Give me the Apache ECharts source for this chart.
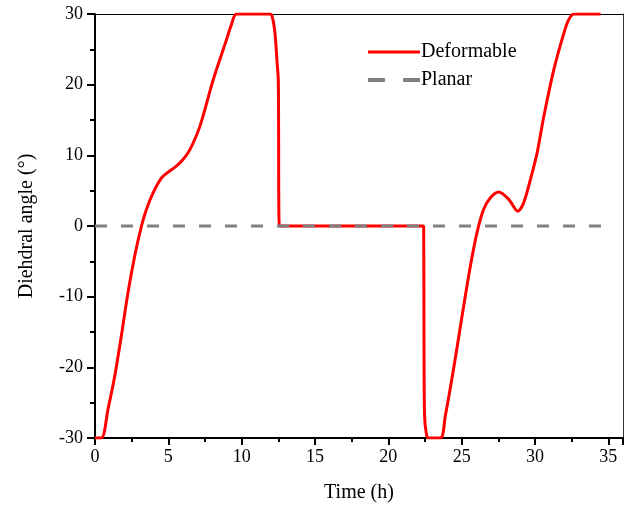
<!DOCTYPE html>
<html>
<head>
<meta charset="utf-8">
<script src="https://cdn.jsdelivr.net/npm/echarts@6/dist/echarts.min.js"></script>
<style>html,body{margin:0;padding:0;background:#fff}#c{width:633px;height:508px}</style>
</head>
<body>
<div id="c"></div>
<script>
var deformableT = [0,0.44,0.89,1.35,1.80,2.25,2.71,3.17,3.51,3.96,4.53,4.88,5.56,6.0,6.47,7.15,8.06,8.97,9.3,9.66,11.93,12.1,12.27,12.42,12.5,12.57,22.41,22.43,22.47,22.6,22.75,23.55,23.89,24.45,25.03,25.6,26.05,26.5,26.96,27.53,28.21,28.83,29.23,29.69,30.15,30.6,31.28,31.97,32.3,32.65,34.47];
var deformableY = [-30,-30,-25.9,-21.2,-15.5,-9.4,-4.2,0,2.36,4.7,6.8,7.45,8.5,9.4,10.8,14.1,20.7,26.4,28.5,30,30,29.5,27.3,23,20.5,0,0,-15,-26.8,-29.5,-30,-30,-26.8,-20.2,-12.7,-5.6,-0.9,2.36,4.0,4.8,3.77,2.1,3.3,6.6,10.4,15.5,22.1,27.3,29.2,30,30];
var planarT = [0,35];
var planarY = [0,0];
var xTicks = [0,5,10,15,20,25,30,35];
var yTicks = [-30,-20,-10,0,10,20,30];

function pairs(a,b){return a.map(function(v,i){return [v,b[i]];});}
var font = 'Liberation Serif';
var chart = echarts.init(document.getElementById('c'));
chart.setOption({
  animation:false,
  backgroundColor:'#fff',
  grid:{left:95,right:10,top:14,bottom:69},
  legend:{
    left:363, top:37, orient:'vertical', itemWidth:52, itemHeight:14, itemGap:8,
    textStyle:{fontFamily:font,fontSize:20,color:'#000',padding:[0,0,0,-4]},
    data:[{name:'Deformable',icon:'path://M0,0L52,0L52,3L0,3Z'},{name:'Planar',icon:'path://M0,0L13,0L13,3L0,3ZM27,0L40,0L40,3L27,3Z'}]
  },
  xAxis:[{
    type:'value', min:0, max:36, interval:5,
    name:'Time (h)', nameLocation:'middle', nameGap:45,
    nameTextStyle:{fontFamily:font,fontSize:20,color:'#000'},
    axisLine:{show:true,onZero:false,lineStyle:{color:'#000',width:2}},
    axisTick:{show:true,inside:false,length:7,lineStyle:{color:'#000',width:2}},
    minorTick:{show:true,splitNumber:2,length:4,lineStyle:{color:'#000',width:2}},
    axisLabel:{fontFamily:font,fontSize:18,color:'#000',margin:10,
      formatter:function(v){return xTicks.indexOf(v)>=0?String(v):'';}},
    splitLine:{show:false}
  },{
    type:'value', position:'top', min:0, max:36,
    axisLine:{show:true,onZero:false,lineStyle:{color:'#000',width:1}},
    axisTick:{show:false},axisLabel:{show:false},splitLine:{show:false}
  }],
  yAxis:[{
    type:'value', min:-30, max:30, interval:10,
    name:'Diehdral angle (°)', nameLocation:'middle', nameGap:58, nameRotate:90,
    nameTextStyle:{fontFamily:font,fontSize:20,color:'#000'},
    axisLine:{show:true,onZero:false,lineStyle:{color:'#000',width:2}},
    axisTick:{show:true,inside:false,length:8,lineStyle:{color:'#000',width:2}},
    minorTick:{show:true,splitNumber:2,length:5,lineStyle:{color:'#000',width:2}},
    axisLabel:{fontFamily:font,fontSize:18,color:'#000',margin:12,
      formatter:function(v){return yTicks.indexOf(v)>=0?String(v):'';}},
    splitLine:{show:false}
  },{
    type:'value', position:'right', min:-30, max:30,
    axisLine:{show:true,onZero:false,lineStyle:{color:'#333',width:1}},
    axisTick:{show:false},axisLabel:{show:false},splitLine:{show:false}
  }],
  series:[{
    name:'Deformable', type:'line', showSymbol:false, symbol:'none',
    smooth:0.3,
    data:pairs(deformableT,deformableY),
    itemStyle:{color:'#ff0000'},
    lineStyle:{color:'#ff0000',width:3}, z:3
  },{
    name:'Planar', type:'line', showSymbol:false, symbol:'none',
    data:pairs(planarT,planarY),
    itemStyle:{color:'#808080'},
    lineStyle:{color:'#808080',width:3,type:[12,14]}, z:4
  }]
});
</script>
</body>
</html>
